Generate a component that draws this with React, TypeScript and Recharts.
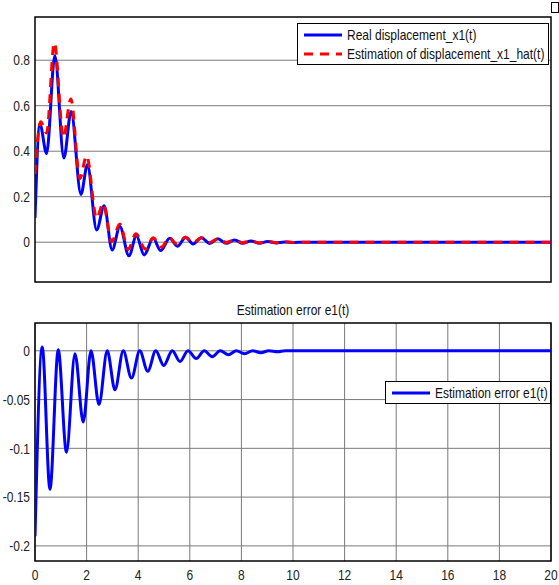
import { LineChart, Line, XAxis, YAxis, CartesianGrid, ReferenceArea, Legend } from "recharts";

// ── Data ───────────────────────────────────────────────────────────────
const X_TICKS = [0, 2, 4, 6, 8, 10, 12, 14, 16, 18, 20];
const TOP_Y_TICKS = [0, 0.2, 0.4, 0.6, 0.8];
const ERR_Y_TICKS = [-0.2, -0.15, -0.1, -0.05, 0];

// real displacement x1(t)
const T_X1 = [0, 0.19, 0.45, 0.77, 1.12, 1.4, 1.78, 2.03, 2.39, 2.68, 2.99, 3.29, 3.64, 3.93, 4.23, 4.58, 4.87, 5.22, 5.52, 5.84, 6.13, 6.45, 6.77, 7.09, 7.41, 7.74, 8.05, 8.37, 8.7, 9.02, 9.35, 9.67, 10.0, 10.5, 20];
const X1 = [0.107, 0.52, 0.39, 0.82, 0.37, 0.575, 0.21, 0.34, 0.054, 0.16, -0.034, 0.069, -0.06, 0.028, -0.056, 0.017, -0.037, 0.017, -0.018, 0.022, -0.008, 0.02, -0.006, 0.015, -0.005, 0.01, -0.005, 0.005, -0.005, 0.003, -0.003, 0.001, -0.001, 0, 0];

// estimation x1_hat(t)
const T_X1HAT = [0, 0.22, 0.45, 0.75, 1.1, 1.39, 1.74, 2.0, 2.39, 2.64, 2.97, 3.29, 3.61, 3.91, 4.28, 4.58, 4.9, 5.2, 5.5, 5.83, 6.13, 6.45, 6.77, 7.09, 7.41, 7.74, 8.05, 8.37, 8.7, 9.02, 9.35, 9.67, 10.0, 10.5, 20];
const X1HAT = [0.3, 0.53, 0.48, 0.877, 0.46, 0.63, 0.28, 0.38, 0.105, 0.17, 0.003, 0.08, -0.032, 0.037, -0.03, 0.02, -0.022, 0.02, -0.008, 0.022, -0.002, 0.02, -0.001, 0.015, -0.001, 0.01, -0.002, 0.006, -0.003, 0.004, -0.002, 0.002, -0.001, 0, 0];

// estimation error e1(t)
const T_E1 = [0, 0.28, 0.58, 0.9, 1.22, 1.55, 1.87, 2.17, 2.48, 2.8, 3.1, 3.42, 3.74, 4.06, 4.37, 4.68, 4.99, 5.32, 5.62, 5.93, 6.25, 6.56, 6.87, 7.18, 7.5, 7.8, 8.12, 8.44, 8.75, 9.06, 9.4, 9.7, 10.0, 20];
const E1 = [-0.19, 0.004, -0.142, 0.001, -0.104, -0.003, -0.073, 0, -0.055, 0, -0.04, 0, -0.028, 0, -0.021, 0, -0.015, 0, -0.011, 0, -0.008, 0, -0.006, 0, -0.004, 0, -0.003, 0, -0.002, 0, -0.001, 0, 0, 0];

const x1Data = T_X1.map((t, i) => ({ t, v: X1[i] }));
const x1HatData = T_X1HAT.map((t, i) => ({ t, v: X1HAT[i] }));
const e1Data = T_E1.map((t, i) => ({ t, v: E1[i] }));

// ── Style ──────────────────────────────────────────────────────────────
const FONT = "'Liberation Sans', Arial, sans-serif";
const STRETCH = 1.25; // glyphs in the figure are vertically stretched
const GRID = "#7a7a7a";
const TOP_DOMAIN: [number, number] = [-0.175, 0.99];
const ERR_DOMAIN: [number, number] = [-0.2155, 0.0285];

function YTick({ x, y, payload }: any) {
  return (
    <text transform={`translate(${x},${y}) scale(1,${STRETCH})`} textAnchor="end" dy="0.35em"
      fontSize={12} fontFamily={FONT} fill="#222">
      {payload.value}
    </text>
  );
}

function XTick({ x, y, payload }: any) {
  return (
    <text transform={`translate(${x},${y + 14}) scale(1,${STRETCH})`} textAnchor="middle" dy="0.35em"
      fontSize={12} fontFamily={FONT} fill="#222">
      {payload.value}
    </text>
  );
}

function Sample({ dashed, color }: { dashed?: boolean; color: string }) {
  return (
    <svg width={38} height={6} style={{ display: "block" }}>
      <line x1={0} y1={3} x2={38} y2={3} stroke={color} strokeWidth={3}
        strokeDasharray={dashed ? "9 7" : undefined} />
    </svg>
  );
}

function LegendBox({ rows, width }: { rows: { label: string; color: string; dashed?: boolean }[]; width: number }) {
  return (
    <div style={{ width, boxSizing: "border-box", border: "1px solid #000", background: "#fff", padding: "1px 0 1px 6px", fontFamily: FONT, fontSize: 12, color: "#111" }}>
      {rows.map((r) => (
        <div key={r.label} style={{ display: "flex", alignItems: "center", height: 19, gap: 5 }}>
          <Sample color={r.color} dashed={r.dashed} />
          <span style={{ whiteSpace: "nowrap", display: "inline-block", transform: `scaleY(${STRETCH})` }}>{r.label}</span>
        </div>
      ))}
    </div>
  );
}

export default function App() {
  return (
    <div style={{ position: "absolute", left: 0, top: 0, width: 559, height: 585, background: "#fff", overflow: "hidden" }}>
      {/* ── top: displacement ── */}
      <div style={{ position: "absolute", left: 0, top: 0 }}>
        <LineChart width={559} height={290} margin={{ top: 17, right: 8, bottom: 8, left: 0 }}>
          <CartesianGrid stroke={GRID} strokeWidth={1} horizontalValues={TOP_Y_TICKS} verticalValues={X_TICKS} />
          <XAxis type="number" dataKey="t" domain={[0, 20]} ticks={X_TICKS} height={0}
            tick={false} tickLine={false} axisLine={false} allowDataOverflow />
          <YAxis type="number" domain={TOP_DOMAIN} ticks={TOP_Y_TICKS} width={35} allowDataOverflow
            tick={<YTick />} tickLine={false} axisLine={false} tickSize={3} tickMargin={2} />
          <ReferenceArea x1={0} x2={20} y1={TOP_DOMAIN[0]} y2={TOP_DOMAIN[1]} fill="none" stroke="#000" strokeWidth={1.5} />
          <Line data={x1Data} dataKey="v" name="Real displacement_x1(t)" type="monotone" stroke="#0000ff"
            strokeWidth={3} dot={false} isAnimationActive={false} />
          <Line data={x1HatData} dataKey="v" name="Estimation of displacement_x1_hat(t)" type="monotone" stroke="#ff0000"
            strokeWidth={3} strokeDasharray="9 7" dot={false} isAnimationActive={false} />
          <Legend layout="horizontal" verticalAlign="middle" align="center"
            wrapperStyle={{ left: 297, top: 23, width: 252, height: 42 }}
            content={() => (
              <LegendBox width={252} rows={[
                { label: "Real displacement_x1(t)", color: "#0000ff" },
                { label: "Estimation of displacement_x1_hat(t)", color: "#ff0000", dashed: true },
              ]} />
            )} />
        </LineChart>
      </div>

      {/* ── bottom: estimation error ── */}
      <div style={{ position: "absolute", left: 35, width: 516, top: 303, textAlign: "center", fontFamily: FONT, fontSize: 12, color: "#111" }}>
        <span style={{ display: "inline-block", transform: `scaleY(${STRETCH})` }}>Estimation error e1(t)</span>
      </div>
      <div style={{ position: "absolute", left: 0, top: 300 }}>
        <LineChart width={559} height={285} margin={{ top: 23, right: 8, bottom: 0, left: 0 }}>
          <CartesianGrid stroke={GRID} strokeWidth={1} horizontalValues={ERR_Y_TICKS} verticalValues={X_TICKS} />
          <XAxis type="number" dataKey="t" domain={[0, 20]} ticks={X_TICKS} height={24} allowDataOverflow
            tick={<XTick />} tickLine={false} axisLine={false} tickSize={0} tickMargin={0} />
          <YAxis type="number" domain={ERR_DOMAIN} ticks={ERR_Y_TICKS} width={35} allowDataOverflow
            tick={<YTick />} tickLine={false} axisLine={false} tickSize={3} tickMargin={2} />
          <ReferenceArea x1={0} x2={20} y1={ERR_DOMAIN[0]} y2={ERR_DOMAIN[1]} fill="none" stroke="#000" strokeWidth={1.5} />
          <Line data={e1Data} dataKey="v" name="Estimation error e1(t)" type="monotone" stroke="#0000ff"
            strokeWidth={3} dot={false} isAnimationActive={false} />
          <Legend layout="horizontal" verticalAlign="middle" align="center"
            wrapperStyle={{ left: 385, top: 81, width: 166, height: 23 }}
            content={() => (
              <LegendBox width={166} rows={[{ label: "Estimation error e1(t)", color: "#0000ff" }]} />
            )} />
        </LineChart>
      </div>

      {/* figure corner marker */}
      <div style={{ position: "absolute", left: 551, top: 2, width: 8, height: 11, border: "1px solid #000", boxSizing: "border-box", background: "#fff" }} />
    </div>
  );
}
